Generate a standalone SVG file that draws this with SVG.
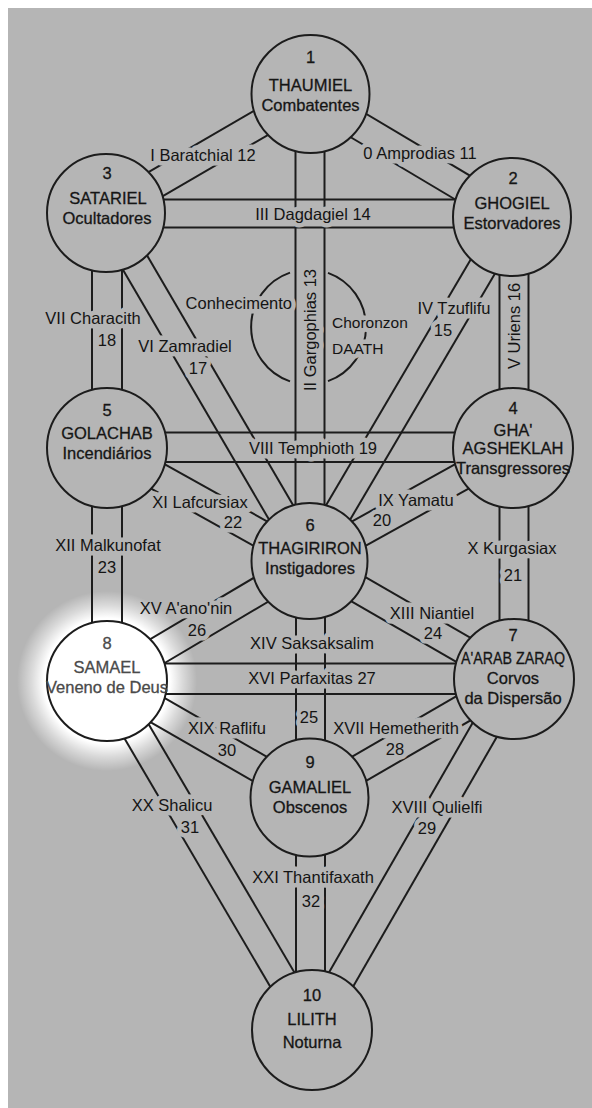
<svg xmlns="http://www.w3.org/2000/svg" width="592" height="1108" viewBox="0 0 592 1108">
<defs>
<style>
.bg{fill:#b5b5b5}
.cn line,.cn path{stroke:#1c1c1c;stroke-width:2;fill:none}
.node circle{fill:#b5b5b5;stroke:#1c1c1c;stroke-width:2}
text{font-family:"Liberation Sans",Arial,sans-serif;font-size:16.5px;fill:#141414;text-anchor:middle}
.node text{stroke:#1a1a1a;stroke-width:0.3px}
#labels text{paint-order:stroke;stroke:url(#glowbg);stroke-width:9px;stroke-linejoin:round}
.sm{font-size:15.5px;text-anchor:start}
#node8 circle{fill:#ffffff}
#node8 text{fill:#4a4a4a;stroke:#4a4a4a}
</style>
<radialGradient id="glow" cx="107" cy="681" r="90" gradientUnits="userSpaceOnUse">
<stop offset="0" stop-color="#fff" stop-opacity="1"/>
<stop offset="0.7" stop-color="#fff" stop-opacity="1"/>
<stop offset="0.84" stop-color="#fff" stop-opacity="0.5"/>
<stop offset="1" stop-color="#fff" stop-opacity="0"/>
</radialGradient>
<radialGradient id="glowbg" cx="107" cy="681" r="90" gradientUnits="userSpaceOnUse">
<stop offset="0" stop-color="#ffffff"/>
<stop offset="0.7" stop-color="#ffffff"/>
<stop offset="0.84" stop-color="#dadada"/>
<stop offset="1" stop-color="#b5b5b5"/>
</radialGradient>
</defs>
<rect width="592" height="1108" fill="#ffffff"/>
<rect class="bg" x="8" y="8" width="584" height="1100"/>
<circle cx="107" cy="681" r="90" fill="url(#glow)"/>

<g id="connectors" class="cn">
<line x1="295.5" y1="94" x2="295.5" y2="561"/><line x1="324.5" y1="94" x2="324.5" y2="561"/>
<line x1="296" y1="561" x2="296" y2="797.5"/><line x1="325" y1="561" x2="325" y2="797.5"/>
<line x1="296" y1="797.5" x2="296" y2="1030"/><line x1="325" y1="797.5" x2="325" y2="1030"/>
<line x1="106" y1="199.5" x2="512" y2="199.5"/><line x1="106" y1="227.5" x2="512" y2="227.5"/>
<line x1="107" y1="432.5" x2="513" y2="432.5"/><line x1="107" y1="462" x2="513" y2="462"/>
<line x1="107" y1="663.5" x2="514" y2="663.5"/><line x1="107" y1="694" x2="514" y2="694"/>
<line x1="92" y1="213" x2="92" y2="448"/><line x1="122" y1="213" x2="122" y2="448"/>
<line x1="92" y1="448" x2="92" y2="681"/><line x1="122" y1="448" x2="122" y2="681"/>
<line x1="499.5" y1="217" x2="499.5" y2="448"/><line x1="528.5" y1="217" x2="528.5" y2="448"/>
<line x1="499.5" y1="448" x2="499.5" y2="679"/><line x1="528.5" y1="448" x2="528.5" y2="679"/>
<line x1="303.3" y1="109" x2="504.8" y2="229"/><line x1="317.7" y1="85" x2="519.2" y2="205"/>
<line x1="303.5" y1="81.9" x2="99" y2="200.9"/><line x1="317.5" y1="106.1" x2="113" y2="225.1"/>
<line x1="499.9" y1="209.9" x2="297.4" y2="553.9"/><line x1="524.1" y1="224.1" x2="321.6" y2="568.1"/>
<line x1="93.9" y1="220.1" x2="297.4" y2="568.1"/><line x1="118.1" y1="205.9" x2="321.6" y2="553.9"/>
<line x1="506.2" y1="435.8" x2="302.7" y2="548.8"/><line x1="519.8" y1="460.2" x2="316.3" y2="573.2"/>
<line x1="100.2" y1="460.2" x2="302.7" y2="573.2"/><line x1="113.8" y1="435.8" x2="316.3" y2="548.8"/>
<line x1="302.5" y1="573.1" x2="507" y2="691.1"/><line x1="316.5" y1="548.9" x2="521" y2="666.9"/>
<line x1="302.4" y1="549" x2="99.9" y2="669"/><line x1="316.6" y1="573" x2="114.1" y2="693"/>
<line x1="507" y1="666.9" x2="302.5" y2="785.4"/><line x1="521" y1="691.1" x2="316.5" y2="809.6"/>
<line x1="100" y1="693.1" x2="302.5" y2="809.6"/><line x1="114" y1="668.9" x2="316.5" y2="785.4"/>
<line x1="501.9" y1="672" x2="299.9" y2="1023"/><line x1="526.1" y1="686" x2="324.1" y2="1037"/>
<line x1="94.9" y1="688.1" x2="299.9" y2="1037.1"/><line x1="119.1" y1="673.9" x2="324.1" y2="1023"/>
<path d="M290,272.6 A57.5,57.5 0 0 0 290,381.4"/>
<path d="M328,272.9 A57.5,57.5 0 0 1 328,381.1"/>
</g>

<g id="labels">
<text x="420" y="159">0 Amprodias 11</text>
<text x="203" y="161">I Baratchial 12</text>
<text x="313" y="220">III Dagdagiel 14</text>
<text x="310" y="336" transform="rotate(-90 310 330)">II Gargophias 13</text>
<text x="292" y="309" style="text-anchor:end">Conhecimento</text>
<text class="sm" x="332" y="328">Choronzon</text>
<text class="sm" x="332" y="354">DAATH</text>
<text x="93" y="324">VII Characith</text>
<text x="107" y="346">18</text>
<text x="185" y="352">VI Zamradiel</text>
<text x="198" y="374">17</text>
<text x="454" y="314">IV Tzuflifu</text>
<text x="443" y="336">15</text>
<text x="514" y="332" transform="rotate(-90 514 326)">V Uriens 16</text>
<text x="313" y="454">VIII Temphioth 19</text>
<text x="200" y="508">XI Lafcursiax</text>
<text x="233" y="528">22</text>
<text x="416" y="506">IX Yamatu</text>
<text x="382" y="526">20</text>
<text x="108" y="551">XII Malkunofat</text>
<text x="107" y="573">23</text>
<text x="512" y="554">X Kurgasiax</text>
<text x="513" y="581">21</text>
<text x="186" y="614">XV A'ano'nin</text>
<text x="197" y="636">26</text>
<text x="432" y="619">XIII Niantiel</text>
<text x="433" y="639">24</text>
<text x="312" y="649">XIV Saksaksalim</text>
<text x="312" y="684">XVI Parfaxitas 27</text>
<text x="309" y="723">25</text>
<text x="227" y="734">XIX Raflifu</text>
<text x="227" y="756">30</text>
<text x="396" y="734">XVII Hemetherith</text>
<text x="395" y="755">28</text>
<text x="172" y="811">XX Shalicu</text>
<text x="190" y="833">31</text>
<text x="437" y="813">XVIII Qulielfi</text>
<text x="427" y="834">29</text>
<text x="313" y="883">XXI Thantifaxath</text>
<text x="311" y="907">32</text>
</g>

<g id="node1" class="node"><circle cx="310.5" cy="94" r="59"/><text x="310.5" y="63">1</text><text x="310.5" y="91">THAUMIEL</text><text x="310.5" y="111">Combatentes</text></g>
<g id="node2" class="node"><circle cx="512" cy="217" r="59"/><text x="513" y="184">2</text><text x="512" y="209">GHOGIEL</text><text x="512" y="229">Estorvadores</text></g>
<g id="node3" class="node"><circle cx="106" cy="213" r="59"/><text x="107" y="179">3</text><text x="108" y="204">SATARIEL</text><text x="107" y="224">Ocultadores</text></g>
<g id="node4" class="node"><circle cx="513" cy="448" r="60"/><text x="513" y="414">4</text><text x="513" y="436">GHA'</text><text x="513" y="454">AGSHEKLAH</text><text x="513" y="474">Transgressores</text></g>
<g id="node5" class="node"><circle cx="107" cy="448" r="60"/><text x="107" y="416">5</text><text x="107" y="439">GOLACHAB</text><text x="107" y="459">Incendiários</text></g>
<g id="node6" class="node"><circle cx="309.5" cy="561" r="58"/><text x="310" y="531">6</text><text x="310" y="554">THAGIRIRON</text><text x="310" y="574">Instigadores</text></g>
<g id="node7" class="node"><circle cx="514" cy="679" r="60"/><text x="513" y="641">7</text><text x="513" y="664" textLength="104" lengthAdjust="spacingAndGlyphs">A'ARAB ZARAQ</text><text x="513" y="684">Corvos</text><text x="513" y="704">da Dispersão</text></g>
<g id="node8" class="node"><circle cx="107" cy="681" r="60"/><text x="107" y="649">8</text><text x="107" y="673">SAMAEL</text><text x="107" y="693">Veneno de Deus</text></g>
<g id="node9" class="node"><circle cx="309.5" cy="797.5" r="59"/><text x="310" y="768">9</text><text x="310" y="793">GAMALIEL</text><text x="310" y="813">Obscenos</text></g>
<g id="node10" class="node"><circle cx="312" cy="1030" r="60"/><text x="312" y="1001">10</text><text x="312" y="1025">LILITH</text><text x="312" y="1048">Noturna</text></g>
</svg>
